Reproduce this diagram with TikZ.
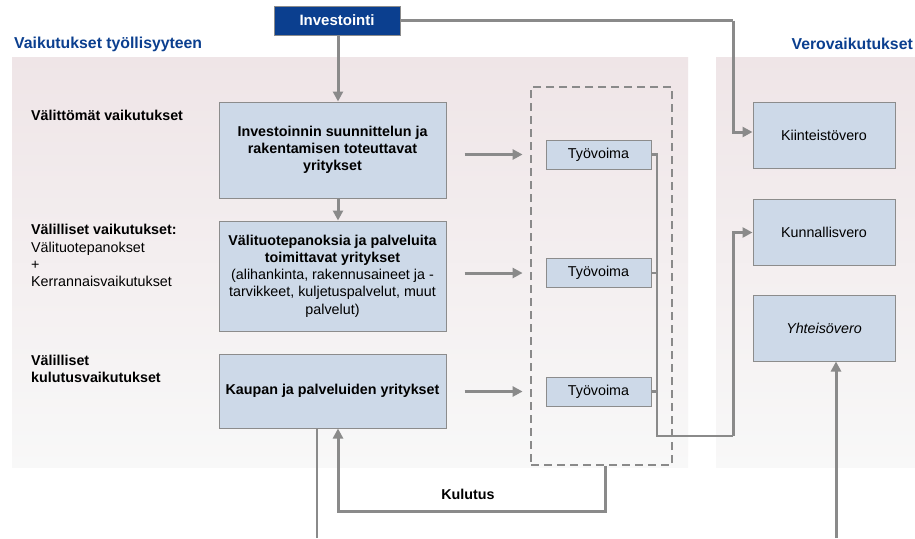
\documentclass[tikz,border=0pt]{standalone}
\usepackage{fontspec}
\setmainfont{Liberation Sans}
\usetikzlibrary{arrows.meta,calc}
\definecolor{navy}{HTML}{0B3F8F}
\definecolor{boxfill}{HTML}{CDD9E8}
\definecolor{boxline}{HTML}{8C8C8C}
\definecolor{lgray}{HTML}{8A8A8A}
\definecolor{paneltop}{HTML}{EFE5E7}
\definecolor{panelbot}{HTML}{F8F8F8}
\newcommand{\bodyfont}{\fontsize{14.3}{17.2}\selectfont}
\begin{document}
\begin{tikzpicture}[x=1pt,y=-1pt,
  every node/.style={font=\bodyfont, inner sep=0pt},
  bluebox/.style={draw=boxline, line width=1pt, fill=boxfill, align=center},
  conn/.style={draw=lgray, line width=2.5pt},
  arr/.style={draw=lgray, line width=3pt, -{Triangle[length=10pt,width=10pt]}},
  lbl/.style={anchor=west, align=left},
  title/.style={font=\fontsize{15.8}{18}\selectfont\bfseries, text=navy}
]
\useasboundingbox (0,0) rectangle (915,538);
\fill[white] (0,0) rectangle (915,538);
% panels
\shade[top color=paneltop, bottom color=panelbot] (12,57) rectangle (688,467);
\shade[top color=paneltop, bottom color=panelbot] (716,57) rectangle (915,467);

% titles
\node[title, anchor=west] (t-left) at (14,44) {Vaikutukset työllisyyteen};
\node[title, anchor=east] (t-right) at (913,44) {Verovaikutukset};

% top investment node
\node[draw=boxline, line width=1pt, fill=navy, text=white, font=\fontsize{15}{17}\selectfont\bfseries,
      minimum width=126pt, minimum height=29pt] (inv) at (337,20.5) {Investointi};

% left labels
\node[lbl, font=\bodyfont\bfseries] (l1) at (31,115) {Välittömät vaikutukset};
\node[lbl] (l2) at (31,255.5) {\textbf{Välilliset vaikutukset:}\\Välituotepanokset\\+\\Kerrannaisvaikutukset};
\node[lbl, font=\bodyfont\bfseries] (l3) at (31,369) {Välilliset\\kulutusvaikutukset};

% main boxes
\node[bluebox, minimum width=227pt, minimum height=96pt, font=\bodyfont\bfseries] (b1) at (332.5,150)
  {Investoinnin suunnittelun ja\\rakentamisen toteuttavat\\yritykset};
\node[bluebox, minimum width=227pt, minimum height=110pt] (b2) at (332.5,276)
  {\textbf{Välituotepanoksia ja palveluita}\\\textbf{toimittavat yritykset}\\(alihankinta, rakennusaineet ja -\\tarvikkeet, kuljetuspalvelut, muut\\palvelut)};
\node[bluebox, minimum width=227pt, minimum height=74pt, font=\bodyfont\bfseries] (b3) at (332.5,391)
  {Kaupan ja palveluiden yritykset};

% dashed group
\node[draw=lgray, line width=2.8pt, dash pattern=on 8pt off 5pt, minimum width=141pt, minimum height=378pt] (dash) at (601.5,276) {};

% labour boxes
\node[bluebox, minimum width=105pt, minimum height=29pt] (w1) at (598.5,154.5) {Työvoima};
\node[bluebox, minimum width=105pt, minimum height=29pt] (w2) at (598.5,273) {Työvoima};
\node[bluebox, minimum width=105pt, minimum height=29pt] (w3) at (598.5,391.5) {Työvoima};

% tax boxes
\node[bluebox, minimum width=142pt, minimum height=66pt] (kt) at (824,135) {Kiinteistövero};
\node[bluebox, minimum width=142pt, minimum height=66pt] (ku) at (824,232.5) {Kunnallisvero};
\node[bluebox, minimum width=142pt, minimum height=66pt, font=\bodyfont\itshape] (yh) at (824,328) {Yhteisövero};

% Kulutus label
\node[font=\bodyfont\bfseries] (kul) at (468,494) {Kulutus};

% coordinates
\coordinate (jt) at (657,154.5);
\coordinate (jb) at (657,436);
\coordinate (rb) at (733,436);
\coordinate (invr) at (733,20.5);
\coordinate (kd) at (605,511);
\coordinate (kl) at (338,511);
\coordinate (bot1) at (317,538);
\coordinate (bot2) at (836,538);

% connectors
\draw[arr] ([xshift=1pt]inv.south) -- ([xshift=5.5pt]b1.north);
\draw[arr] ([xshift=5.5pt]b1.south) -- ([xshift=5.5pt]b2.north);

\draw[arr] ($(b1.east |- w1)+(18,0)$) -- ($(dash.west |- w1)+(-7,0)$);
\draw[arr] ($(b2.east |- w2)+(18,0)$) -- ($(dash.west |- w2)+(-7,0)$);
\draw[arr] ($(b3.east |- w3)+(18,0)$) -- ($(dash.west |- w3)+(-7,0)$);

\draw[conn] (w1.east) -- (jt) -- (jb) -- (rb);
\draw[conn] (w2.east) -- (jt |- w2);
\draw[conn] (w3.east) -- (jt |- w3);
\draw[arr] (rb) |- (ku.west);

\draw[conn] (inv.east) -- (invr);
\draw[arr] (invr) |- ([yshift=3pt]kt.west);

\draw[arr] (dash.south -| kd) -- (kd) -- (kl) -- (b3.south -| kl);
\draw[conn] (b3.south -| bot1) -- (bot1);
\draw[arr] (bot2) -- (bot2 |- yh.south);
\end{tikzpicture}
\end{document}
